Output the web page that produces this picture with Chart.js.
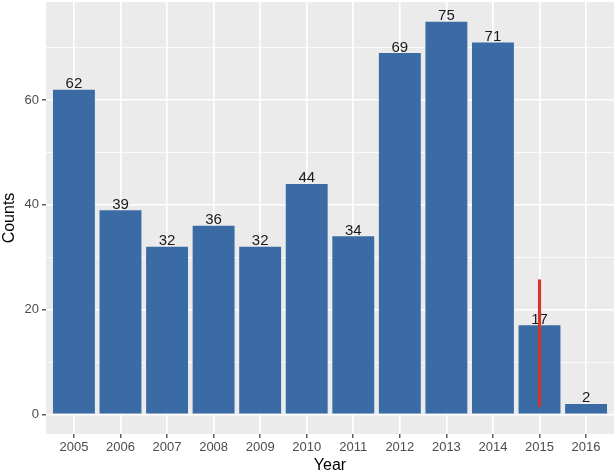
<!DOCTYPE html>
<html>
<head>
<meta charset="utf-8">
<script src="https://cdn.jsdelivr.net/npm/chart.js@4/dist/chart.umd.min.js"></script>
<style>
  html, body { margin: 0; padding: 0; background: #fff; }
  #wrap { width: 616px; height: 475px; }
</style>
</head>
<body>
<div id="wrap"><canvas id="chart" width="616" height="475"></canvas></div>
<script>
const years = ['2005', '2006', '2007', '2008', '2009', '2010', '2011', '2012', '2013', '2014', '2015', '2016'];
const counts = [62, 39, 32, 36, 32, 44, 34, 69, 75, 71, 17, 2];
// red vertical segment drawn over the 2015 bar
const segmentYear = '2015';
const segmentRange = [1.5, 25.7];
const yMajorTicks = [0, 20, 40, 60];

const barData = years.map((y, i) => ({ x: +y, y: counts[i] }));

// grey ggplot panel behind everything
const panelBg = {
    id: 'panelBg',
    beforeDraw(chart) {
        const { ctx, chartArea: a } = chart;
        ctx.save();
        ctx.fillStyle = '#EBEBEB';
        ctx.fillRect(a.left, a.top, a.right - a.left, a.bottom - a.top);
        ctx.restore();
    }
};

// count labels on top of the bars, before the red segment is drawn
const barLabels = {
    id: 'barLabels',
    afterDatasetDraw(chart, args) {
        if (args.index !== 0) return;
        const { ctx } = chart;
        ctx.save();
        ctx.font = '15px "Liberation Sans", Arial, sans-serif';
        ctx.fillStyle = '#1a1a1a';
        ctx.textAlign = 'center';
        ctx.textBaseline = 'alphabetic';
        args.meta.data.forEach((bar, i) => {
            ctx.fillText(String(counts[i]), bar.x, bar.y - 1.5);
        });
        ctx.restore();
    }
};

const noEdgePad = (scale) => {
    scale.paddingTop = 0;
    scale.paddingBottom = 0;
    scale.paddingLeft = 0;
    scale.paddingRight = 0;
};

new Chart(document.getElementById('chart'), {
    type: 'bar',
    data: {
        datasets: [{
            data: barData,
            backgroundColor: '#3A6BA5',
            barPercentage: 0.9,
            categoryPercentage: 1.0,
            order: 2
        }, {
            data: [{ x: +segmentYear, y: segmentRange }],
            backgroundColor: '#D5352B',
            barThickness: 2.5,
            grouped: false,
            order: 1
        }]
    },
    options: {
        responsive: false,
        animation: false,
        layout: { padding: { top: 2, right: 2, left: 0, bottom: 0 } },
        plugins: {
            legend: { display: false },
            tooltip: { enabled: false }
        },
        scales: {
            x: {
                type: 'linear',
                min: 2004.4,
                max: 2016.6,
                offset: false,
                border: { display: false },
                grid: {
                    offset: false,
                    color: '#FFFFFF',
                    lineWidth: 1.6,
                    drawTicks: true,
                    tickLength: 4,
                    tickColor: '#333333',
                    tickWidth: 1.2
                },
                ticks: {
                    stepSize: 1,
                    includeBounds: false,
                    padding: 2,
                    color: '#4D4D4D',
                    font: { family: '"Liberation Sans", Arial, sans-serif', size: 13 },
                    callback: (v) => String(v)
                },
                title: {
                    display: true,
                    text: 'Year',
                    color: '#000000',
                    padding: 0,
                    font: { family: '"Liberation Sans", Arial, sans-serif', size: 16 }
                },
                afterFit(scale) { scale.height = 41; noEdgePad(scale); }
            },
            y: {
                min: -3.75,
                max: 78.75,
                border: { display: false },
                grid: {
                    color: '#FFFFFF',
                    lineWidth: (c) => (yMajorTicks.includes(c.tick && c.tick.value) ? 1.6 : 0.8),
                    drawTicks: true,
                    tickLength: 4,
                    tickColor: (c) => (yMajorTicks.includes(c.tick && c.tick.value) ? '#333333' : 'rgba(0,0,0,0)'),
                    tickWidth: 1.2
                },
                ticks: {
                    stepSize: 10,
                    includeBounds: false,
                    padding: 3,
                    color: '#4D4D4D',
                    font: { family: '"Liberation Sans", Arial, sans-serif', size: 13 },
                    callback: (v) => (yMajorTicks.includes(v) ? String(v) : '')
                },
                title: {
                    display: true,
                    text: 'Counts',
                    color: '#000000',
                    padding: 0,
                    font: { family: '"Liberation Sans", Arial, sans-serif', size: 16 }
                },
                afterFit(scale) { scale.width = 46; noEdgePad(scale); }
            }
        }
    },
    plugins: [panelBg, barLabels]
});
</script>
</body>
</html>
